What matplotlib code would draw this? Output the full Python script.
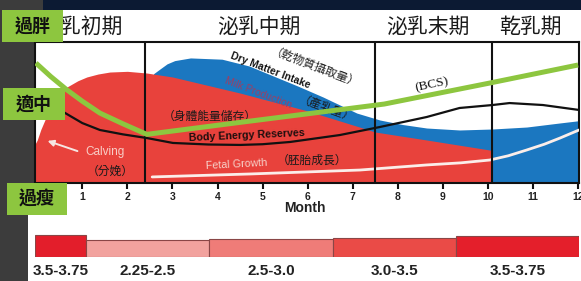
import matplotlib
matplotlib.use('Agg')
import matplotlib.pyplot as plt
from matplotlib import font_manager
from matplotlib.patches import Rectangle, Polygon
import matplotlib.transforms as mtransforms

W, H = 581, 281
names = {f.name for f in font_manager.fontManager.ttflist}
NARROW = 'Liberation Sans Narrow' if 'Liberation Sans Narrow' in names else 'Liberation Sans'
CJK = ['Noto Sans CJK TC', 'DejaVu Sans']

# ---------------- data ----------------
months = list(range(1, 13))
period_labels = ['泌乳初期', '泌乳中期', '泌乳末期', '乾乳期']
period_bounds = [2.4, 7.5, 10.08]
period_label_x = [0.98, 4.92, 8.66, 10.95]

# Body energy reserves (red area top)
red_x = [-0.05, 0.0, 0.08, 0.17, 0.28, 0.45, 0.66, 0.9, 1.1, 1.35, 1.61, 2.0, 2.43, 3.0,
         4.5, 6.0, 7.22, 7.49, 8.64, 10.04, 10.08]
red_y = [27.5, 30.5, 38.0, 44.7, 54.0, 62.5, 68.1, 72.5, 75.2, 77.3, 78.7, 79.2, 78.0, 75.2,
         63.8, 51.1, 39.0, 36.2, 30.5, 23.4, 23.2]

# Dry matter intake (blue area top)
blue_x = [2.58, 2.72, 2.88, 3.05, 3.4, 4.1, 4.7, 5.23, 5.8, 6.34, 7.09, 7.6, 8.1,
          8.64, 9.37, 10.1, 10.86, 11.6, 12.02]
blue_y = [77.5, 80.8, 84.5, 86.8, 88.7, 87.8, 83.0, 76.0, 68.5, 61.0, 49.6, 44.7, 41.5,
          39.0, 37.6, 38.3, 39.7, 42.6, 44.2]

# Body energy reserves (black line)
black_x = [0.45, 0.62, 1.0, 1.39, 1.9, 2.43, 3.01, 3.8, 4.5, 5.0, 5.61, 6.71, 7.6,
           8.64, 9.37, 10.1, 10.48, 11.22, 12.02]
black_y = [53.0, 49.6, 42.5, 37.6, 34.5, 31.9, 28.4, 27.3, 27.0, 27.5, 29.1, 34.0, 39.7,
           46.8, 53.2, 55.3, 56.7, 55.3, 51.8]

# BCS (green line)
green_x = [-0.03, 0.3, 0.66, 1.0, 1.39, 1.9, 2.43, 4.5, 5.61, 7.7, 10.04, 12.0]
green_y = [85.1, 75.5, 66.0, 58.0, 49.6, 42.0, 34.5, 43.0, 47.5, 56.0, 70.9, 83.7]

# Fetal growth (white line)
fetal_x = [2.55, 4.72, 7.16, 8.64, 9.4, 10.04, 10.45, 10.86, 11.25, 11.6, 12.02]
fetal_y = [4.3, 6.4, 9.2, 12.8, 14.3, 16.3, 19.3, 23.4, 27.5, 31.9, 37.6]

# BCS target bar
bar_edges = [-0.05, 1.08, 3.81, 6.57, 9.30, 12.02]
bar_heights = [22.4, 16.7, 17.7, 19.4, 21.0]
bar_labels = ['3.5-3.75', '2.25-2.5', '2.5-3.0', '3.0-3.5', '3.5-3.75']
bar_colors = ['#e31e2b', '#f2a29e', '#ef7c78', '#ea4b47', '#e41f2b']

box_labels = ['過胖', '適中', '過瘦']

# ---------------- figure ----------------
fig = plt.figure(figsize=(W / 100, H / 100), dpi=100, facecolor='white')

bg = fig.add_axes([0, 0, 1, 1], zorder=0)
bg.set_xlim(0, W); bg.set_ylim(H, 0); bg.axis('off')
bg.add_patch(Polygon([(0, 0), (43, 0), (43, 10), (34, 10), (34, 183), (28, 183),
                      (28, H), (0, H)], closed=True, color='#3c3c3c', lw=0))
bg.add_patch(Rectangle((43, 0), W - 43, 10, color='#0c1a33', lw=0))

L, R, T, B = 35, 579, 42, 183
ax = fig.add_axes([L / W, 1 - B / H, (R - L) / W, (B - T) / H], zorder=1)
ax.set_facecolor('white')
ax.set_xlim(-0.05, 12.02)
ax.set_ylim(0, 100)

ax.fill_between(blue_x, 0, blue_y, color='#1b77c0', lw=0, zorder=1)
ax.fill_between(red_x, 0, red_y, color='#e8423c', lw=0, zorder=2)
ax.plot(fetal_x, fetal_y, color='#fbeeea', lw=2, zorder=3, solid_capstyle='round')
for b in period_bounds:
    ax.axvline(b, color='#111111', lw=1.5, zorder=4.5)
ax.plot(black_x, black_y, color='#111111', lw=1.6, zorder=5)
ax.plot(green_x, green_y, color='#8dc63f', lw=3.6, zorder=6, solid_capstyle='butt')

for s in ax.spines.values():
    s.set_color('#111111'); s.set_linewidth(1.5)
ax.set_yticks([])
ax.set_xticks(months)
ax.set_xticklabels([str(m) for m in months])
ax.tick_params(axis='x', length=4, width=1.5, pad=2.5, labelsize=7.5, color='#111111')
for lbl in ax.get_xticklabels():
    lbl.set_fontweight('bold'); lbl.set_family(NARROW); lbl.set_color('#222222')

# annotations
ax.text(5.16, 80.1, 'Dry Matter Intake', rotation=-21, ha='center', va='center',
        fontsize=7.5, fontweight='bold', family='Liberation Sans', color='#151515', zorder=4)
ax.text(6.15, 80.4, '（乾物質攝取量）', rotation=-21, ha='center', va='center',
        fontsize=8.5, family=CJK, color='#222222', zorder=4)
ax.text(4.9, 64.0, 'Milk Production', rotation=-21, ha='center', va='center',
        fontsize=7.5, family='Liberation Sans', color='#9b3f63', zorder=4)
ax.text(6.4, 51.1, '（產乳量）', rotation=-20, ha='center', va='center',
        fontsize=8.5, family=CJK, color='#1a1a1a', zorder=4)
ax.text(3.83, 47.5, '（身體能量儲存）', ha='center', va='center',
        fontsize=8.5, family=CJK, color='#1a1a1a', zorder=4)
ax.text(4.65, 34.0, 'Body Energy Reserves', rotation=2.5, ha='center', va='center',
        fontsize=7.7, fontweight='bold', family='Liberation Sans', color='#1e0e0e', zorder=4)
ax.text(4.43, 13.5, 'Fetal Growth', rotation=3, ha='center', va='center',
        fontsize=7.7, family='Liberation Sans', color='#f7d2ca', zorder=4)
ax.text(6.09, 16.3, '（胚胎成長）', ha='center', va='center',
        fontsize=8.5, family=CJK, color='#1a1a1a', zorder=4)
ax.text(8.75, 69.5, '(BCS)', rotation=12, ha='center', va='center',
        fontsize=9.5, family='Liberation Serif', color='#111111', zorder=4)
ax.text(1.5, 22.0, 'Calving', ha='center', va='center',
        fontsize=8.5, family='Liberation Sans', color='#f8cdc6', zorder=4)
ax.text(1.61, 8.5, '（分娩）', ha='center', va='center',
        fontsize=8.5, family=CJK, color='#1a1a1a', zorder=4)
ax.annotate('', xy=(0.17, 30.5), xytext=(0.95, 22),
            arrowprops=dict(arrowstyle='-|>', color='#f6e6e2', lw=1.4, mutation_scale=9),
            zorder=4)

# period labels above plot
tr = mtransforms.blended_transform_factory(ax.transData, fig.transFigure)
for lab, xp in zip(period_labels, period_label_x):
    ax.text(xp, 1 - 27 / H, lab, transform=tr, ha='center', va='center',
            fontsize=15, family=CJK, color='#1a1a1a', clip_on=False)

fig.text(305 / W, 1 - 208 / H, 'Month', ha='center', va='center', fontsize=10,
         fontweight='bold', family=NARROW, color='#222222')

# bottom bar
bx = fig.add_axes([L / W, 1 - 257 / H, (R - L) / W, 24 / H], zorder=1)
bx.set_xlim(-0.05, 12.02); bx.set_ylim(0, 24); bx.axis('off')
for i in range(len(bar_heights)):
    x0, x1 = bar_edges[i], bar_edges[i + 1]
    bx.bar(x0, bar_heights[i], width=x1 - x0, align='edge', color=bar_colors[i],
           edgecolor='#8a4646', linewidth=0.8)
    bx.text((x0 + x1) / 2, -14, bar_labels[i], ha='center', va='center', fontsize=11,
            fontweight='bold', family=NARROW, color='#222222', clip_on=False)

# green boxes
fg = fig.add_axes([0, 0, 1, 1], zorder=5)
fg.set_xlim(0, W); fg.set_ylim(H, 0); fg.axis('off'); fg.patch.set_alpha(0)
boxes = [(2, 10, 61, 32), (3, 88, 62, 32), (7, 183, 60, 32)]
for (x, y, w, h), lab in zip(boxes, box_labels):
    fg.add_patch(Rectangle((x, y), w, h, color='#8dc63f', lw=0))
    fg.text(x + w / 2, y + h / 2, lab, ha='center', va='center', fontsize=13,
            fontweight='bold', family=CJK, color='#111111')

fig.savefig('out.png', dpi=100, facecolor='white')
